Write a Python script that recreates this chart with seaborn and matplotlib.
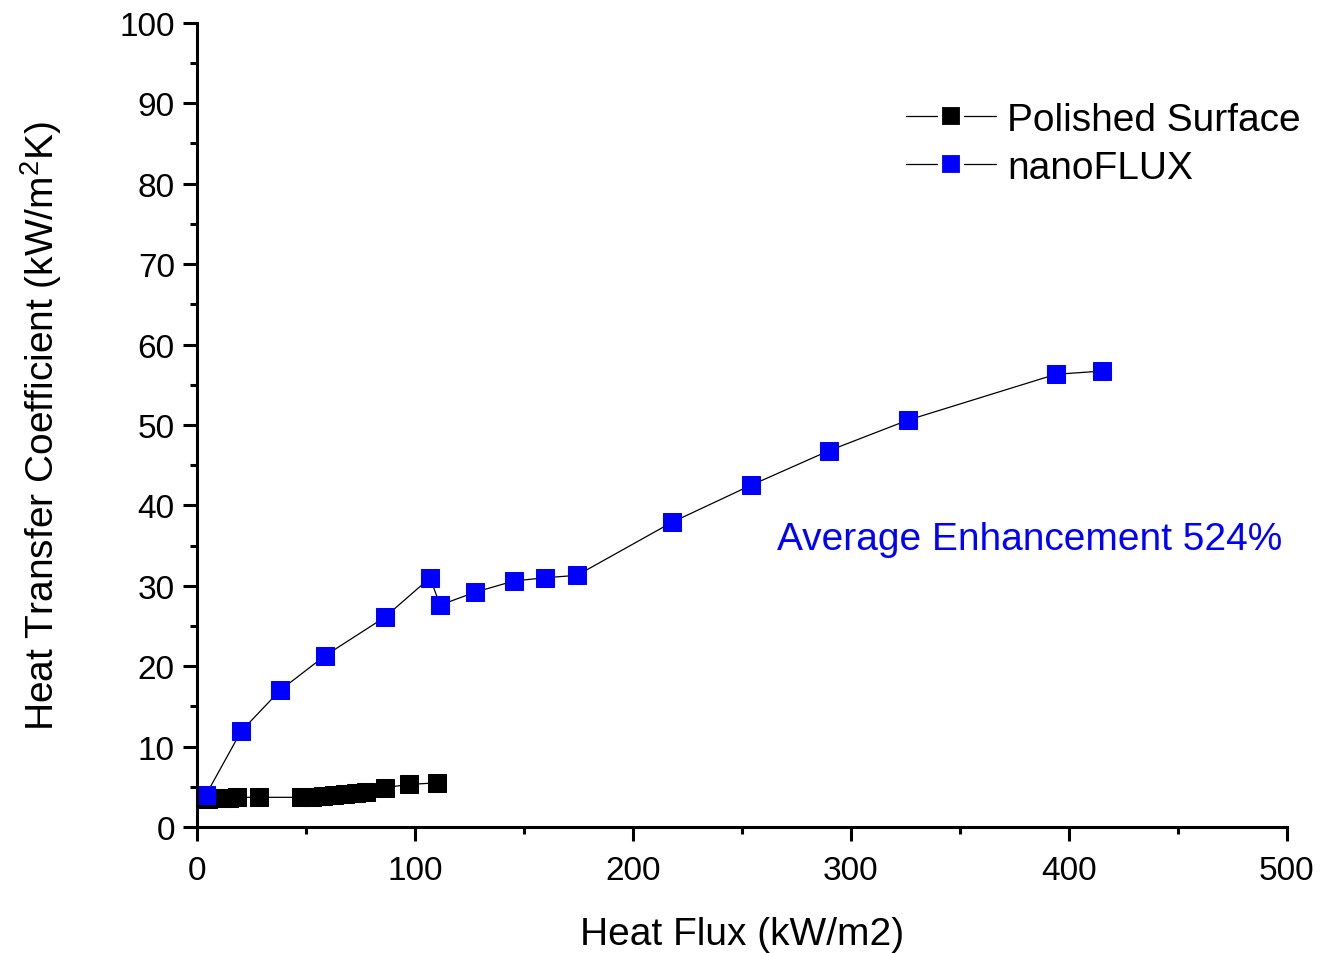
import numpy as np
import pandas as pd
import seaborn as sns
import matplotlib.pyplot as plt
from matplotlib.lines import Line2D
from matplotlib.ticker import MultipleLocator

# Values
polished_flux = [5, 11.0, 14.7, 18.3, 28.4, 47.7, 52.8, 57.8, 62.8, 67.9, 72.9, 77.5, 86.2, 97.2, 110.1]
polished_htc = [3.5, 3.6, 3.6, 3.7, 3.7, 3.7, 3.8, 3.9, 4.0, 4.1, 4.2, 4.4, 4.9, 5.3, 5.5]

nano_flux = [4.1, 20.2, 38.1, 58.7, 86.2, 106.9, 111.5, 127.5, 145.4, 159.6, 174.3,
             217.9, 254.1, 289.9, 326.1, 394.0, 415.1]
nano_htc = [4.0, 11.9, 17.0, 21.3, 26.1, 31.0, 27.6, 29.2, 30.6, 31.0, 31.3,
            37.9, 42.5, 46.8, 50.6, 56.3, 56.7]

polished = pd.DataFrame({'flux': polished_flux, 'htc': polished_htc})
nano = pd.DataFrame({'flux': nano_flux, 'htc': nano_htc})

sns.set_style('ticks')
plt.rcParams['font.family'] = ['Liberation Sans', 'DejaVu Sans']
plt.rcParams['mathtext.default'] = 'regular'
for k in ['text.color', 'axes.labelcolor', 'xtick.color', 'ytick.color', 'axes.edgecolor']:
    plt.rcParams[k] = 'black'

fig, ax = plt.subplots(figsize=(13.24, 9.54), dpi=100)
fig.subplots_adjust(left=0.1488, right=0.972, bottom=0.132, top=0.975)

sns.lineplot(data=polished, x='flux', y='htc', ax=ax, sort=False, color='black',
             lw=0.9, marker='s', markersize=13, markerfacecolor='black',
             markeredgecolor='black')
sns.lineplot(data=nano, x='flux', y='htc', ax=ax, sort=False, color='black',
             lw=0.9, marker='s', markersize=13, markerfacecolor='#0000ff',
             markeredgecolor='#0000ff')

ax.set_xlim(0, 500)
ax.set_ylim(0, 100)
ax.xaxis.set_major_locator(MultipleLocator(100))
ax.xaxis.set_minor_locator(MultipleLocator(50))
ax.yaxis.set_major_locator(MultipleLocator(10))
ax.yaxis.set_minor_locator(MultipleLocator(5))
ax.tick_params(which='major', direction='out', length=10, width=2.2, labelsize=24, pad=6)
ax.tick_params(axis='x', which='major', pad=10)
ax.tick_params(which='minor', direction='out', length=5, width=2.2)
for s in ['left', 'bottom']:
    ax.spines[s].set_linewidth(2.2)
sns.despine(ax=ax)

ax.set_xlabel('Heat Flux (kW/m2)', fontsize=28, labelpad=22)
ax.set_ylabel('Heat Transfer Coefficient (kW/m$^2$K)', fontsize=28, labelpad=40)

ax.text(266, 35.8, 'Average Enhancement 524%', color='#0000ff', fontsize=28,
        va='center', ha='left')

# legend handles: line - marker - line with a gap round the marker
handles = [Line2D([], [], color='black', lw=0.9, marker='s', markersize=16,
                  markerfacecolor=fc, markeredgecolor='white', markeredgewidth=3)
           for fc in ['black', '#0000ff']]
ax.legend(handles, ['Polished Surface', 'nanoFLUX'], loc='upper right',
          bbox_to_anchor=(1.045, 0.945), frameon=False, fontsize=28,
          handlelength=2.3, handletextpad=0.3, labelspacing=0.3, numpoints=1)

plt.savefig('out.png', dpi=100)
